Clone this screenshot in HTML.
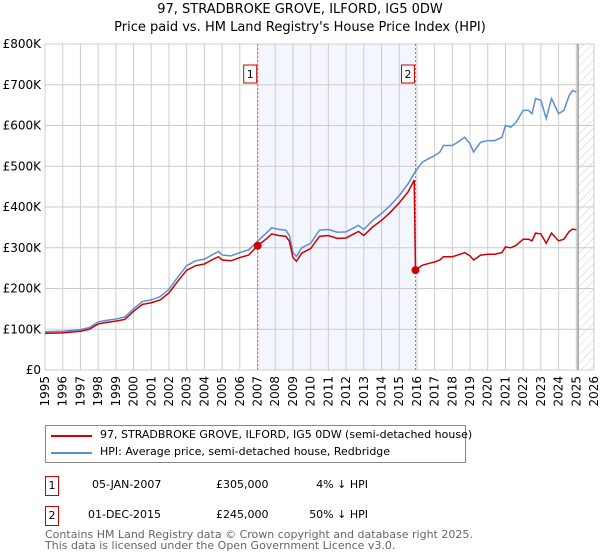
<!DOCTYPE html>
<html><head><meta charset="utf-8"><style>
body{margin:0;background:#fff;font-family:"DejaVu Sans","Liberation Sans",sans-serif;}
#wrap{position:relative;width:600px;height:560px;overflow:hidden;}
.t{position:absolute;font-size:12px;color:#000;white-space:nowrap;}
</style></head><body>
<div id="wrap">
<div class="t" style="left:0;width:600px;text-align:center;top:2px;font-size:13px">97, STRADBROKE GROVE, ILFORD, IG5 0DW</div>
<div class="t" style="left:0;width:600px;text-align:center;top:20px;font-size:13px">Price paid vs. HM Land Registry's House Price Index (HPI)</div>
<svg id="chart" width="600" height="420" style="position:absolute;left:0;top:0"></svg>
<div style="position:absolute;left:45px;top:425px;width:419px;height:36px;border:1px solid #888">
 <div style="position:absolute;left:5px;top:9px;width:41px;height:2px;background:#cc0000"></div>
 <div class="t" style="left:54px;top:2px;font-size:11px">97, STRADBROKE GROVE, ILFORD, IG5 0DW (semi-detached house)</div>
 <div style="position:absolute;left:5px;top:26px;width:41px;height:2px;background:#5b8fd4"></div>
 <div class="t" style="left:54px;top:19px;font-size:11px">HPI: Average price, semi-detached house, Redbridge</div>
</div>
<div style="position:absolute;left:45px;top:476px;width:12px;height:18px;border:1px solid #cc0000;font-size:11px;text-align:center;line-height:18px">1</div>
<div class="t" style="left:92px;top:478px;font-size:11px">05-JAN-2007</div>
<div class="t" style="left:216px;top:478px;font-size:11px">£305,000</div>
<div class="t" style="left:300px;width:68px;text-align:right;top:478px;font-size:11px">4% ↓ HPI</div>
<div style="position:absolute;left:45px;top:506px;width:12px;height:18px;border:1px solid #cc0000;font-size:11px;text-align:center;line-height:18px">2</div>
<div class="t" style="left:88px;top:508px;font-size:11px">01-DEC-2015</div>
<div class="t" style="left:216px;top:508px;font-size:11px">£245,000</div>
<div class="t" style="left:300px;width:68px;text-align:right;top:508px;font-size:11px">50% ↓ HPI</div>
<div class="t" style="left:45px;top:529px;font-size:11px;color:#666;line-height:11px">Contains HM Land Registry data © Crown copyright and database right 2025.<br>This data is licensed under the Open Government Licence v3.0.</div>
</div>
<script>
const hpiYears=[1995,1996,1997,1997.5,1998,1998.5,1999,1999.5,2000,2000.5,2001,2001.5,2002,2002.5,2003,2003.5,2004,2004.5,2004.8,2005,2005.5,2006,2006.5,2007,2007.5,2007.8,2008.2,2008.6,2008.8,2009,2009.2,2009.5,2010,2010.5,2011,2011.5,2012,2012.7,2013,2013.5,2014,2014.5,2015,2015.5,2015.9,2016.3,2016.8,2017,2017.3,2017.5,2018,2018.3,2018.7,2019,2019.2,2019.6,2020,2020.4,2020.8,2021,2021.3,2021.6,2022,2022.3,2022.5,2022.7,2023,2023.3,2023.6,2024,2024.3,2024.6,2024.8,2025];
const hpiValues=[94,95,99,104,118,122,125,130,150,168,172,180,198,228,256,268,272,284,291,282,280,288,295,316,336,349,345,343,330,288,279,300,311,343,345,338,339,355,345,367,384,404,428,457,486,510,522,526,535,551,551,559,571,555,535,559,563,563,571,600,596,608,637,637,629,666,662,617,666,629,637,674,686,682];
const propYears=[1995,1996,1997,1997.5,1998,1998.5,1999,1999.5,2000,2000.5,2001,2001.5,2002,2002.5,2003,2003.5,2004,2004.5,2004.8,2005,2005.5,2006,2006.5,2007.01,2007.5,2007.8,2008.2,2008.6,2008.8,2009,2009.2,2009.5,2010,2010.5,2011,2011.5,2012,2012.7,2013,2013.5,2014,2014.5,2015,2015.5,2015.85,2015.92,2016.3,2016.8,2017,2017.3,2017.5,2018,2018.3,2018.7,2019,2019.2,2019.6,2020,2020.4,2020.8,2021,2021.3,2021.6,2022,2022.3,2022.5,2022.7,2023,2023.3,2023.6,2024,2024.3,2024.6,2024.8,2025];
const propValues=[90,91,95,100,113,117,120,124,144,161,165,172,189,218,245,256,260,272,278,270,268,276,282,305,322,334,330,328,316,276,267,287,298,328,330,323,324,340,330,351,367,387,410,437,466,245,257,263,265,270,278,278,282,288,280,270,282,284,284,288,302,300,306,321,321,317,336,334,311,336,317,321,340,346,344];
const saleYears=[2007.01,2015.92];
const saleValues=[305,245];
const saleLabels=["1","2"];
const yTicks=[0,100,200,300,400,500,600,700,800];
const yTickLabels=["£0","£100K","£200K","£300K","£400K","£500K","£600K","£700K","£800K"];
const xTicks=[1995,1996,1997,1998,1999,2000,2001,2002,2003,2004,2005,2006,2007,2008,2009,2010,2011,2012,2013,2014,2015,2016,2017,2018,2019,2020,2021,2022,2023,2024,2025,2026];
const L=45,R=594,T=44,B=370;
const xs=y=>L+(y-1995)/(2026-1995)*(R-L);
const ys=v=>B-v/800*(B-T);
const svg=document.getElementById('chart');
const NS='http://www.w3.org/2000/svg';
function mk(tag,attrs,parent){const e=document.createElementNS(NS,tag);for(const k in attrs)e.setAttribute(k,attrs[k]);(parent||svg).appendChild(e);return e;}
const defs=mk('defs',{});
const pat=mk('pattern',{id:'hatch',width:6,height:6,patternUnits:'userSpaceOnUse',patternTransform:'rotate(45)'},defs);
mk('line',{x1:0,y1:0,x2:0,y2:6,stroke:'#ccc','stroke-width':1},pat);
let e=mk('rect',{x:xs(saleYears[0]),y:T,width:xs(saleYears[1])-xs(saleYears[0]),height:B-T,fill:'#f3f6fe'});


e=mk('rect',{x:xs(2025.1),y:T,width:R-xs(2025.1),height:B-T,fill:'url(#hatch)'});


xTicks.forEach(yr=>{
 const g=mk('line',{x1:xs(yr),x2:xs(yr),y1:T,y2:B,stroke:'#ccc','stroke-width':1});
 
 
 const t=mk('text',{x:0,y:0,'font-size':12,'text-anchor':'end',transform:`translate(${xs(yr)+4},${B+6}) rotate(-90)`,'font-family':'DejaVu Sans, Liberation Sans, sans-serif'});
 t.textContent=yr;
 
 
});
yTicks.forEach((v,i)=>{
 const g=mk('line',{x1:L,x2:R,y1:ys(v),y2:ys(v),stroke:'#ccc','stroke-width':1});
 
 
 const t=mk('text',{x:L-4,y:ys(v)+4,'font-size':12,'text-anchor':'end','font-family':'DejaVu Sans, Liberation Sans, sans-serif'});
 t.textContent=yTickLabels[i];
 
 
});
e=mk('line',{x1:xs(2025.1),x2:xs(2025.1),y1:T,y2:B,stroke:'#999','stroke-width':1.5});


saleYears.forEach((yr,i)=>{
 const l=mk('line',{x1:xs(yr),x2:xs(yr),y1:T,y2:B,stroke:'#e06060','stroke-width':1,'stroke-dasharray':'2,2'});
 
 
 const r=mk('rect',{x:xs(yr)-14,y:65,width:13,height:18,fill:'#fff',stroke:'#cc0000','stroke-width':1});
 
 
 const t=mk('text',{x:xs(yr)-7.5,y:78,'font-size':11,'text-anchor':'middle','font-family':'DejaVu Sans, sans-serif'});
 t.textContent=saleLabels[i];
 
 
});
e=mk('polyline',{points:hpiYears.map((y,i)=>xs(y)+','+ys(hpiValues[i])).join(' '),fill:'none',stroke:'#5b8fd4','stroke-width':1.5});


e=mk('polyline',{points:propYears.map((y,i)=>xs(y)+','+ys(propValues[i])).join(' '),fill:'none',stroke:'#cc0000','stroke-width':1.5});


saleYears.forEach((yr,i)=>{
 const c=mk('circle',{cx:xs(yr),cy:ys(saleValues[i]),r:4,fill:'#cc0000'});
 
 
});
</script>
</body></html>
